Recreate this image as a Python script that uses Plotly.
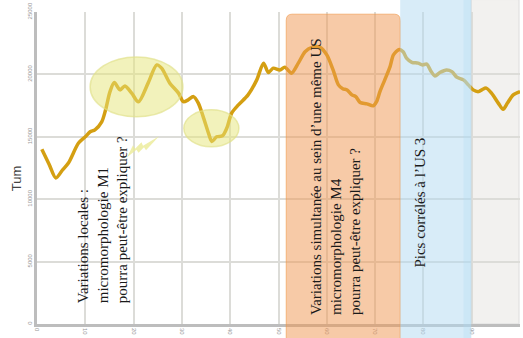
import plotly.graph_objects as go

# ---- data ----
x_vals = [1, 2.5, 3.9, 5.2, 6.5, 8.6, 10, 11, 12, 13.4, 14.2, 15.1, 16, 17.2, 18.2, 19.6,
          21, 23, 24.8, 25.8, 27.5, 29.3, 30.3, 31.3, 32.4, 33.4, 34.4, 35.5, 36.2, 37.2,
          38.4, 39.3, 40.3, 41.7, 43.7, 45.5, 46.9, 47.9, 48.9, 50.3, 51.3, 52.7, 54.1,
          55.5, 56.9, 58.6, 60, 61.3, 62.4, 63.3, 64.2, 65.2, 66, 66.9, 68.3, 69.6, 70.3,
          71, 72, 73.1, 73.8, 75, 75.8, 76.5, 77.6, 78.9, 79.8, 80.7, 81.5, 82.4, 83.4,
          84.8, 85.9, 86.9, 88.3, 89.3, 90.3, 91.4, 92.1, 93, 94.1, 95.5, 96.5, 97.4,
          98.6, 100]
tum_vals = [14000, 12800, 11700, 12300, 12900, 14500, 15000, 15400, 15560, 16200, 17160,
            18600, 19350, 18760, 19080, 18500, 17800, 19300, 20760, 20500, 19300, 18500,
            17820, 17960, 18220, 17700, 16620, 15300, 14620, 15000, 15080, 15700, 16900,
            17560, 18360, 19560, 20900, 20150, 20500, 20360, 20580, 20100, 20900, 21820,
            22170, 22170, 21560, 20360, 19160, 18850, 18750, 18360, 18220, 17750, 17640,
            17480, 17820, 18620, 19560, 20620, 21560, 22000, 21820, 21300, 20970, 20900,
            20760, 20820, 20300, 19880, 20150, 20360, 20220, 19780, 19560, 19160, 18760,
            18620, 18760, 18900, 18500, 17700, 17200, 17700, 18360, 18620]

x_ticks = [0, 10, 20, 30, 40, 50, 60, 70, 80, 90, 100]
y_ticks = [0, 5000, 10000, 15000, 20000, 25000]

y_title = "Tum"
text_m1 = "Variations locales :<br>micromorphologie M1<br>pourra peut-être expliquer ?"
text_m4 = ("Variations simultanée au sein d’une même US<br>micromorphologie M4"
           "<br>pourra peut-être expliquer ?")
text_us3 = "Pics corrélés à l’US 3"

# zones (x in axis units)
zone_m4 = (51.6, 75.2)
zone_us3 = (75.2, 89.9)
zone_grey = (89.9, 100)

X_MAX = 100.0
Y_MAX = 25000.0

fig = go.Figure()
fig.add_trace(go.Scatter(
    x=x_vals, y=tum_vals, mode="lines",
    line=dict(color="#d49f12", width=3.5, shape="spline", smoothing=0.8),
    hoverinfo="skip", showlegend=False))

shapes = []
# grey zone (below)
shapes.append(dict(type="rect", xref="paper", yref="paper",
                   x0=zone_grey[0] / X_MAX, x1=0.998, y0=0, y1=1.04,
                   fillcolor="#f2f1ef", line=dict(color="#dddddd", width=1),
                   layer="below"))

# orange rounded zone (above, translucent)
ox0, ox1 = zone_m4[0] / X_MAX, zone_m4[1] / X_MAX
oy0, oy1 = -0.06, 0.993
rx, ry = 0.012, 0.02
path = (f"M {ox0+rx},{oy1} L {ox1-rx},{oy1} Q {ox1},{oy1} {ox1},{oy1-ry} "
        f"L {ox1},{oy0} L {ox0},{oy0} L {ox0},{oy1-ry} Q {ox0},{oy1} {ox0+rx},{oy1} Z")
shapes.append(dict(type="path", xref="paper", yref="paper", path=path,
                   fillcolor="rgba(240,150,80,0.5)",
                   line=dict(color="rgba(240,150,70,0.6)", width=1), layer="above"))

# blue zone
shapes.append(dict(type="rect", xref="paper", yref="paper",
                   x0=zone_us3[0] / X_MAX, x1=zone_us3[1] / X_MAX, y0=-0.06, y1=1.05,
                   fillcolor="rgba(177,217,241,0.5)", line=dict(width=0), layer="above"))
shapes.append(dict(type="rect", xref="paper", yref="paper",
                   x0=88.3 / X_MAX, x1=zone_us3[1] / X_MAX, y0=-0.06, y1=1.05,
                   fillcolor="rgba(177,217,241,0.3)", line=dict(width=0), layer="above"))

# yellow ellipses
shapes.append(dict(type="circle", xref="x", yref="y", x0=11.0, x1=30.2, y0=16600, y1=21400,
                   fillcolor="rgba(230,230,120,0.5)",
                   line=dict(color="rgba(225,225,140,0.7)", width=1.5), layer="above"))
shapes.append(dict(type="circle", xref="x", yref="y", x0=30.4, x1=41.8, y0=14200, y1=17160,
                   fillcolor="rgba(230,230,120,0.5)",
                   line=dict(color="rgba(225,225,140,0.7)", width=1.5), layer="above"))

# jagged pointer
def px2d(px, py):
    return (px - 37) / 4.83, (324.5 - py) * 80

pts = [(127, 157.5), (133, 145.5), (135, 149), (141.5, 142.5), (143, 146), (159, 136.5),
       (146, 150.5), (144, 147.5), (138.5, 153), (136.5, 150)]
dpts = [px2d(a, b) for a, b in pts]
ppath = "M " + " L ".join(f"{a:.3f},{b:.1f}" for a, b in dpts) + " Z"
shapes.append(dict(type="path", xref="x", yref="y", path=ppath,
                   fillcolor="rgba(235,235,150,0.8)", line=dict(width=0), layer="above"))

fig.update_layout(shapes=shapes)

serif = "Liberation Serif, Times New Roman, serif"
fig.add_annotation(x=13.5, y=1480, xref="x", yref="y", text=text_m1, showarrow=False,
                   textangle=-90, xanchor="center", yanchor="bottom", align="left",
                   font=dict(family=serif, size=15, color="#1a1a1a"))
fig.add_annotation(x=61.7, y=520, xref="x", yref="y", text=text_m4, showarrow=False,
                   textangle=-90, xanchor="center", yanchor="bottom", align="left",
                   font=dict(family=serif, size=15, color="#1a1a1a"))
fig.add_annotation(x=79.3, y=4360, xref="x", yref="y", text=text_us3, showarrow=False,
                   textangle=-90, xanchor="center", yanchor="bottom", align="left",
                   font=dict(family=serif, size=15, color="#1a1a1a"))
# y axis title
fig.add_annotation(x=-0.041, y=0.468, xref="paper", yref="paper", text=y_title,
                   showarrow=False, textangle=-90, xanchor="center", yanchor="middle",
                   font=dict(family="Arial", size=13, color="#444444"))

fig.update_layout(
    width=523, height=338,
    margin=dict(l=37, r=3, t=12, b=14, autoexpand=False),
    paper_bgcolor="white", plot_bgcolor="white",
    xaxis=dict(range=[0, X_MAX], tickvals=x_ticks, ticktext=[str(v) for v in x_ticks],
               tickangle=90, tickfont=dict(size=6, color="#999999", family="Arial"),
               showgrid=True, gridcolor="#dcdcd8", gridwidth=1.5, automargin=False,
               showline=True, linecolor="#bdbdbd", linewidth=2.5, zeroline=False,
               ticks="", fixedrange=True),
    yaxis=dict(range=[0, Y_MAX], tickvals=y_ticks, ticktext=[str(v) for v in y_ticks],
               tickangle=-90, tickfont=dict(size=6, color="#999999", family="Arial"),
               showgrid=True, gridcolor="#dcdcd8", gridwidth=1.5, automargin=False,
               showline=True, linecolor="#bdbdbd", linewidth=2.5, zeroline=False,
               ticks="", fixedrange=True),
)

fig.write_html("out.html",
               config={"displayModeBar": False},
               post_script="document.body.style.margin='0px';"
                           "document.body.style.overflow='hidden';")
